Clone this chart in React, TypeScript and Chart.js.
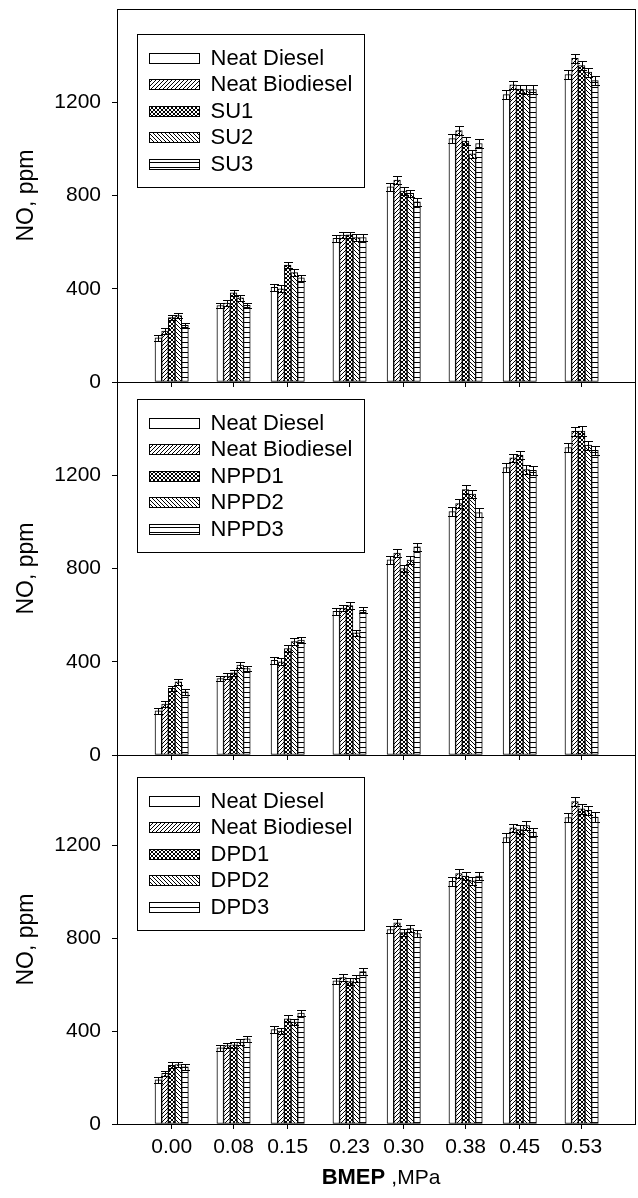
import React, { useEffect, useRef } from 'react';
import { Chart, registerables } from 'chart.js';

Chart.register(...registerables);

// ---------- data ----------
const BMEP = [0, 0.08, 0.15, 0.23, 0.3, 0.38, 0.45, 0.53];
const X_TICK_LABELS = ['0.00', '0.08', '0.15', '0.23', '0.30', '0.38', '0.45', '0.53'];
const Y_TICKS = [0, 400, 800, 1200];

const NEAT_DIESEL = [190, 328, 406, 616, 837, 1044, 1233, 1319];
const NEAT_BIODIESEL = [218, 338, 400, 630, 866, 1078, 1275, 1388];

const SU1 = [276, 383, 501, 631, 819, 1033, 1257, 1357];
const SU2 = [285, 361, 469, 619, 809, 979, 1254, 1329];
const SU3 = [243, 329, 447, 619, 773, 1023, 1254, 1293];

const NPPD1 = [286, 353, 457, 641, 800, 1139, 1286, 1390];
const NPPD2 = [314, 386, 486, 524, 836, 1119, 1224, 1329];
const NPPD3 = [271, 371, 493, 621, 893, 1040, 1221, 1307];

const DPD1 = [253, 341, 453, 613, 824, 1067, 1267, 1356];
const DPD2 = [256, 353, 439, 627, 841, 1046, 1284, 1350];
const DPD3 = [246, 367, 477, 656, 820, 1067, 1256, 1321];

const ERROR = [12, 12, 14, 14, 16, 18, 18, 20];

const PANEL_NAMES = [
  ['Neat Diesel', 'Neat Biodiesel', 'SU1', 'SU2', 'SU3'],
  ['Neat Diesel', 'Neat Biodiesel', 'NPPD1', 'NPPD2', 'NPPD3'],
  ['Neat Diesel', 'Neat Biodiesel', 'DPD1', 'DPD2', 'DPD3'],
];
const PANEL_VALUES = [
  [NEAT_DIESEL, NEAT_BIODIESEL, SU1, SU2, SU3],
  [NEAT_DIESEL, NEAT_BIODIESEL, NPPD1, NPPD2, NPPD3],
  [NEAT_DIESEL, NEAT_BIODIESEL, DPD1, DPD2, DPD3],
];

const FONT = "'Liberation Sans', Arial, sans-serif";

// ---------- patterns ----------
function makePattern(kind: string): CanvasPattern | string {
  if (kind === 'white') return '#ffffff';
  const c = document.createElement('canvas');
  const s = kind === 'horiz' ? 5 : 4;
  c.width = s;
  c.height = s;
  const g = c.getContext('2d')!;
  g.fillStyle = '#fff';
  g.fillRect(0, 0, s, s);
  g.strokeStyle = '#000';
  g.lineWidth = 1;
  const fwd = () => {
    g.beginPath();
    g.moveTo(-1, s + 1);
    g.lineTo(s + 1, -1);
    g.moveTo(-1, 1);
    g.lineTo(1, -1);
    g.moveTo(s - 1, s + 1);
    g.lineTo(s + 1, s - 1);
    g.stroke();
  };
  const back = () => {
    g.beginPath();
    g.moveTo(-1, -1);
    g.lineTo(s + 1, s + 1);
    g.moveTo(s - 1, -1);
    g.lineTo(s + 1, 1);
    g.moveTo(-1, s - 1);
    g.lineTo(1, s + 1);
    g.stroke();
  };
  if (kind === 'fwd') fwd();
  if (kind === 'back') back();
  if (kind === 'cross') {
    fwd();
    back();
  }
  if (kind === 'horiz') {
    g.beginPath();
    g.moveTo(0, 2.5);
    g.lineTo(s, 2.5);
    g.stroke();
  }
  const ctx = document.createElement('canvas').getContext('2d')!;
  return ctx.createPattern(c, 'repeat') as CanvasPattern;
}

const PATTERN_KINDS = ['white', 'fwd', 'cross', 'back', 'horiz'];

const align = (p: number) => Math.round(p - 0.5) + 0.5;

type PanelCfg = {
  idx: number;
  top: number;
  height: number;
  padTop: number;
  xAxisH: number;
  yMax: number;
  legendOffset: number;
  showXLabels: boolean;
};

const PANELS: PanelCfg[] = [
  { idx: 0, top: 0, height: 400, padTop: 9, xAxisH: 18, yMax: 1600, legendOffset: 25, showXLabels: false },
  { idx: 1, top: 370, height: 400, padTop: 12, xAxisH: 15, yMax: 1600, legendOffset: 17, showXLabels: false },
  { idx: 2, top: 740, height: 458, padTop: 15, xAxisH: 74, yMax: 1588, legendOffset: 22, showXLabels: true },
];

function Panel({ cfg }: { cfg: PanelCfg }) {
  const ref = useRef<HTMLCanvasElement>(null);
  useEffect(() => {
    const canvas = ref.current!;
    const names = PANEL_NAMES[cfg.idx];
    const values = PANEL_VALUES[cfg.idx];
    const datasets = names.map((name, i) => ({
      label: name,
      data: BMEP.map((x, j) => ({ x, y: values[i][j] })),
      backgroundColor: makePattern(PATTERN_KINDS[i]) as any,
      borderColor: '#000',
      borderWidth: 1,
      borderSkipped: false,
      barThickness: 6.67,
    }));

    const overlay = {
      id: 'overlay' + cfg.idx,
      afterDatasetsDraw(chart: any) {
        const ctx = chart.ctx;
        const yS = chart.scales.y;
        ctx.save();
        ctx.strokeStyle = '#000';
        ctx.lineWidth = 1;
        chart.data.datasets.forEach((ds: any, di: number) => {
          const meta = chart.getDatasetMeta(di);
          meta.data.forEach((el: any, j: number) => {
            const v = ds.data[j].y;
            const e = ERROR[j];
            const x = Math.round(el.x) + 0.5;
            const y1 = Math.round(yS.getPixelForValue(v + e)) + 0.5;
            const y2 = Math.round(yS.getPixelForValue(v - e)) + 0.5;
            ctx.beginPath();
            ctx.moveTo(x, y1);
            ctx.lineTo(x, y2);
            ctx.moveTo(x - 4.5, y1);
            ctx.lineTo(x + 4.5, y1);
            ctx.moveTo(x - 4.5, y2);
            ctx.lineTo(x + 4.5, y2);
            ctx.stroke();
          });
        });
        ctx.restore();
      },
      afterDraw(chart: any) {
        const ctx = chart.ctx;
        const a = chart.chartArea;
        ctx.save();
        ctx.strokeStyle = '#000';
        ctx.lineWidth = 1;
        // frame
        const l = align(a.left), r = align(a.right), t = align(a.top), b = align(a.bottom);
        ctx.strokeRect(l, t, r - l, b - t);
        // legend
        const bx = align(a.left + 20);
        const by = align(a.top + cfg.legendOffset);
        const bw = 227;
        const bh = 153;
        ctx.fillStyle = '#fff';
        ctx.fillRect(bx, by, bw, bh);
        ctx.strokeRect(bx, by, bw, bh);
        ctx.font = `22px ${FONT}`;
        ctx.textBaseline = 'middle';
        ctx.textAlign = 'left';
        chart.data.datasets.forEach((ds: any, i: number) => {
          const cy = by + 23 + i * 26.6;
          const sx = Math.round(bx + 11) + 0.5;
          const sy = Math.round(cy - 5) + 0.5;
          ctx.fillStyle = ds.backgroundColor;
          ctx.fillRect(sx, sy, 50, 10);
          ctx.strokeRect(sx, sy, 50, 10);
          ctx.fillStyle = '#000';
          ctx.fillText(ds.label, bx + 73, cy + 1);
        });
        // x title
        if (cfg.showXLabels) {
          const f1 = `bold 22px ${FONT}`;
          const f2 = `21px ${FONT}`;
          const t1 = 'BMEP ';
          const t2 = ',MPa';
          ctx.font = f1;
          const w1 = ctx.measureText(t1).width;
          ctx.font = f2;
          const w2 = ctx.measureText(t2).width;
          const cx = (a.left + a.right) / 2 + 5;
          const x0 = cx - (w1 + w2) / 2;
          const ty = a.bottom + 52;
          ctx.fillStyle = '#000';
          ctx.textBaseline = 'alphabetic';
          ctx.font = f1;
          ctx.fillText(t1, x0, ty + 8);
          ctx.font = f2;
          ctx.fillText(t2, x0 + w1, ty + 8);
        }
        ctx.restore();
      },
    };

    const chart = new Chart(canvas, {
      type: 'bar',
      data: { datasets: datasets as any },
      options: {
        animation: false,
        responsive: false,
        maintainAspectRatio: false,
        devicePixelRatio: 1,
        layout: { padding: { top: cfg.padTop, right: 3, left: 0, bottom: 0 } },
        plugins: {
          legend: { display: false },
          tooltip: { enabled: false },
        },
        scales: {
          x: {
            type: 'linear',
            offset: false,
            min: -0.0707,
            max: 0.599,
            afterBuildTicks: (s: any) => {
              s.ticks = BMEP.map((v) => ({ value: v }));
            },
            afterFit: (s: any) => {
              s.height = cfg.xAxisH;
              s.paddingLeft = 0;
              s.paddingRight = 0;
            },
            grid: {
              display: true,
              offset: false,
              drawOnChartArea: false,
              drawTicks: true,
              tickLength: 5,
              color: '#000',
              lineWidth: 1,
            },
            border: { display: true, color: '#000', width: 1 },
            ticks: {
              display: cfg.showXLabels,
              autoSkip: false,
              maxRotation: 0,
              padding: 6,
              color: '#000',
              font: { family: FONT, size: 21 },
              callback: (_v: any, i: number) => X_TICK_LABELS[i],
            },
          },
          y: {
            min: 0,
            max: cfg.yMax,
            afterBuildTicks: (s: any) => {
              s.ticks = Y_TICKS.map((v) => ({ value: v }));
            },
            afterFit: (s: any) => {
              s.width = 117;
              s.paddingTop = 0;
              s.paddingBottom = 0;
            },
            grid: {
              display: true,
              drawOnChartArea: false,
              drawTicks: true,
              tickLength: 5,
              color: '#000',
              lineWidth: 1,
            },
            border: { display: true, color: '#000', width: 1 },
            ticks: {
              padding: 11,
              color: '#000',
              font: { family: FONT, size: 21 },
              callback: (v: any) => String(v),
            },
            title: {
              display: true,
              text: 'NO, ppm',
              color: '#000',
              font: { family: FONT, size: 23 },
              padding: { top: 13, bottom: 0 },
            },
          },
        },
      },
      plugins: [overlay],
    });
    return () => chart.destroy();
  }, [cfg]);

  return (
    <canvas
      ref={ref}
      width={638}
      height={cfg.height}
      style={{ position: 'absolute', left: 0, top: cfg.top, width: 638, height: cfg.height, display: 'block' }}
    />
  );
}

export default function App() {
  return (
    <div style={{ position: 'absolute', left: 0, top: 0, width: 638, height: 1198, background: '#fff' }}>
      {PANELS.map((p) => (
        <Panel key={p.idx} cfg={p} />
      ))}
    </div>
  );
}
